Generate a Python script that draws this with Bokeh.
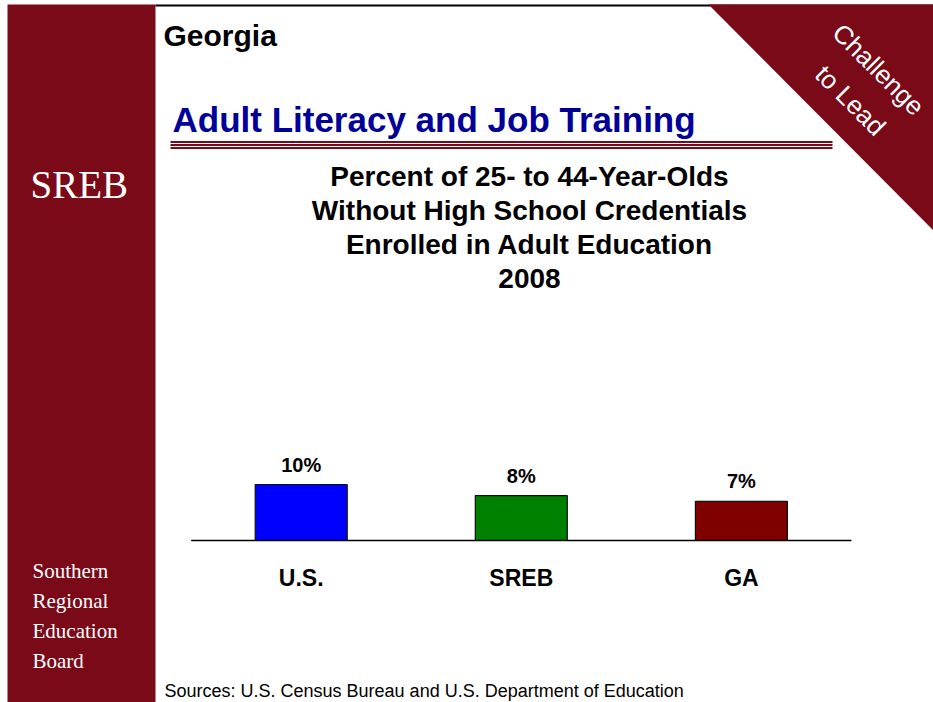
import math
from bokeh.plotting import figure
from bokeh.models import Range1d
from bokeh.core.properties import value
from bokeh.embed import file_html
from bokeh.resources import INLINE

# ---------------- data ----------------
categories = ["U.S.", "SREB", "GA"]
values = [10, 8, 7]
value_labels = ["10%", "8%", "7%"]
bar_colors = ["#0000FF", "#008000", "#800000"]

state_name = "Georgia"
section_title = "Adult Literacy and Job Training"
chart_title = ["Percent of 25- to 44-Year-Olds",
               "Without High School Credentials",
               "Enrolled in Adult Education",
               "2008"]
source_note = "Sources: U.S. Census Bureau and U.S. Department of Education"
org_lines = ["Southern", "Regional", "Education", "Board"]
corner_lines = ["Challenge", "to Lead"]

# ---------------- layout constants ----------------
W, H = 933, 702
X0, X1 = 0, 933        # slide coordinates shown in the frame
Y0, Y1 = 0, 702
MAROON = "#7A0A18"
BLUE_TITLE = "#000099"
SANS = "Liberation Sans"
SERIF = "Liberation Serif"

BASE_Y = 540.0          # slide y of 0 %
PX_PER_PCT = 5.6
CAT0_X = 300.7
CAT_STEP = 220.1

p = figure(width=W, height=H,
           x_range=Range1d(X0, X1), y_range=Range1d(Y1, Y0),
           output_backend="svg", toolbar_location=None,
           x_axis_location=None, y_axis_location=None,
           min_border=0)
p.outline_line_color = None
p.background_fill_color = "white"
p.border_fill_color = "white"
p.xgrid.visible = False
p.ygrid.visible = False

p.extra_x_ranges = {"bx": Range1d((X0 - CAT0_X) / CAT_STEP, (X1 - CAT0_X) / CAT_STEP)}
p.extra_y_ranges = {"pct": Range1d(-(Y1 - BASE_Y) / PX_PER_PCT, (BASE_Y - Y0) / PX_PER_PCT)}

# ---------------- slide decoration ----------------
p.quad(left=[7], right=[155], top=[4], bottom=[Y1], fill_color=MAROON, line_color=None)
p.segment(x0=[155], y0=[5], x1=[X1], y1=[5], line_color="black", line_width=2)
p.patch(x=[708, X1, X1], y=[4, 4, 230], fill_color=MAROON, line_color=None)

for yy, lw in [(141.5, 2), (144.5, 2), (147.5, 2)]:
    p.segment(x0=[170], y0=[yy], x1=[832], y1=[yy], line_color=MAROON, line_width=lw)

p.text(x=[163], y=[35], text=[state_name], text_font=value(SANS), text_font_style="bold",
       text_font_size="30px", text_color="black", text_align="left", text_baseline="middle")
p.text(x=[172], y=[119], text=[section_title], text_font=value(SANS), text_font_style="bold",
       text_font_size="35px", text_color=BLUE_TITLE, text_align="left", text_baseline="middle")

p.text(x=[30], y=[184], text=["SREB"], text_font=value(SERIF), text_font_size="39px",
       text_color="white", text_align="left", text_baseline="middle")
p.text(x=[32] * len(org_lines), y=[570, 600, 630, 660], text=org_lines, text_font=value(SERIF),
       text_font_size="21px", text_color="white", text_align="left", text_baseline="middle")

p.text(x=[878, 850], y=[69, 100], text=corner_lines, angle=-math.pi / 4,
       text_font=value(SANS), text_font_size="26px", text_color="white",
       text_align="center", text_baseline="middle")

p.text(x=[529] * len(chart_title), y=[176, 210, 244, 278], text=chart_title,
       text_font=value(SANS), text_font_style="bold", text_font_size="28px",
       text_color="black", text_align="center", text_baseline="middle")

p.text(x=[164], y=[690], text=[source_note], text_font=value(SANS), text_font_size="18px",
       text_color="black", text_align="left", text_baseline="middle")

# ---------------- chart ----------------
idx = list(range(len(categories)))
p.vbar(x=idx, top=values, bottom=0, width=0.418, fill_color=bar_colors,
       line_color="#111111", line_width=1.2, x_range_name="bx", y_range_name="pct")
p.segment(x0=[-0.5], y0=[0], x1=[len(categories) - 0.5], y1=[0], line_color="black",
          line_width=1.5, x_range_name="bx", y_range_name="pct")

gap = 9 / PX_PER_PCT
p.text(x=idx, y=[v + gap for v in values], text=value_labels, text_font=value(SANS),
       text_font_style="bold", text_font_size="20px", text_color="black",
       text_align="center", text_baseline="bottom", x_range_name="bx", y_range_name="pct")
p.text(x=idx, y=[-37 / PX_PER_PCT] * len(idx), text=categories, text_font=value(SANS),
       text_font_style="bold", text_font_size="23px", text_color="black",
       text_align="center", text_baseline="middle", x_range_name="bx", y_range_name="pct")

open("out.html", "w").write(file_html(p, INLINE))
